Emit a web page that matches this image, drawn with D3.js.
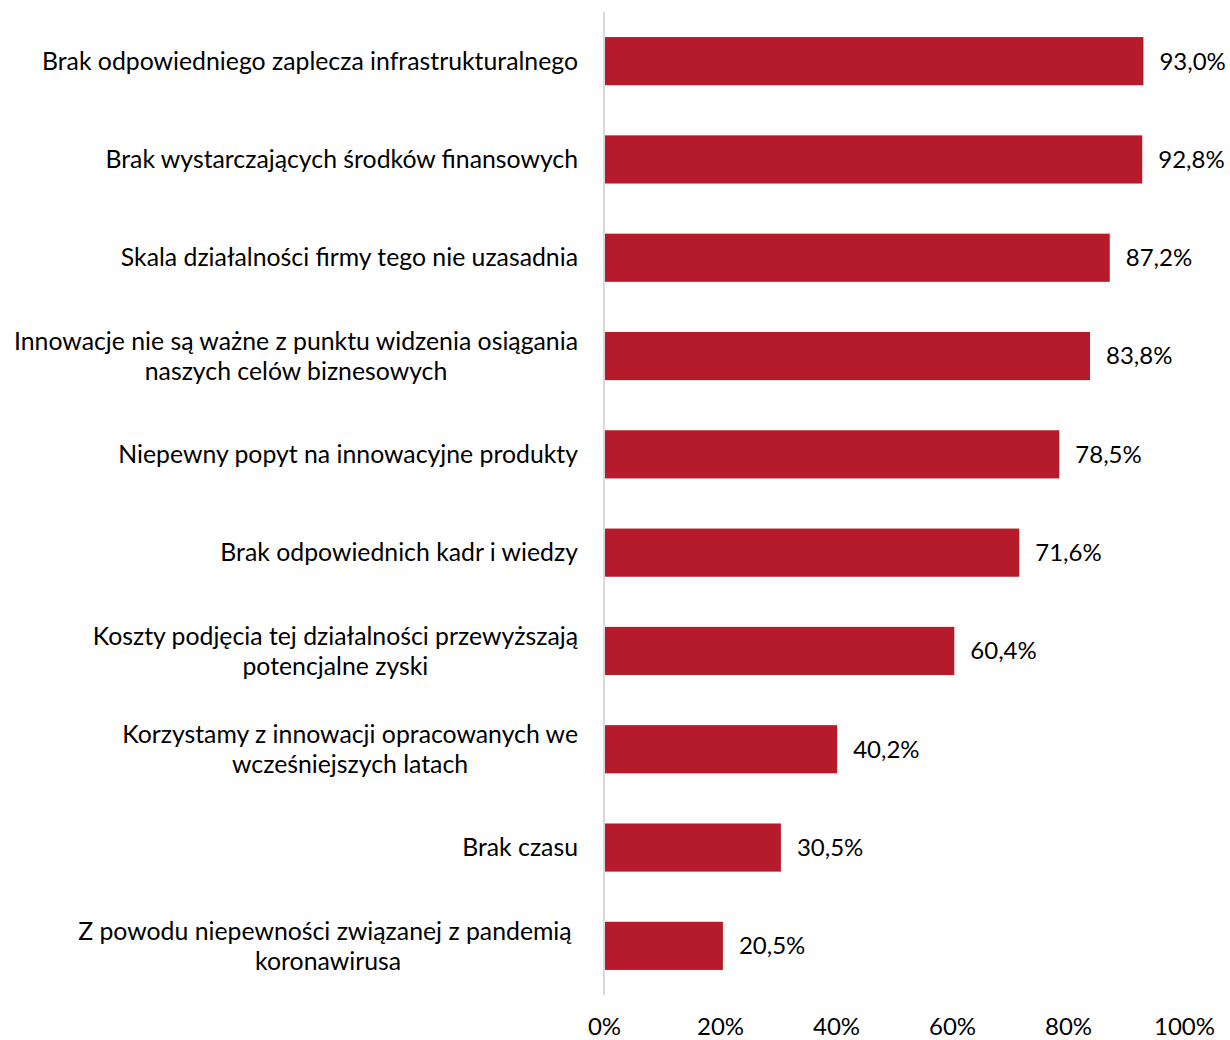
<!DOCTYPE html>
<html>
<head>
<meta charset="utf-8">
<script src="https://cdn.jsdelivr.net/npm/d3@7"></script>
<style>
  body { margin: 0; background: #fff; }
  svg text { font-family: Lato, "Open Sans", sans-serif; fill: #000; }
</style>
</head>
<body>
<svg></svg>
<script>
let categories = [
  ['Brak odpowiedniego zaplecza infrastrukturalnego'],
  ['Brak wystarczających środków finansowych'],
  ['Skala działalności firmy tego nie uzasadnia'],
  ['Innowacje nie są ważne z punktu widzenia osiągania', 'naszych celów biznesowych'],
  ['Niepewny popyt na innowacyjne produkty'],
  ['Brak odpowiednich kadr i wiedzy'],
  ['Koszty podjęcia tej działalności przewyższają', 'potencjalne zyski'],
  ['Korzystamy z innowacji opracowanych we', 'wcześniejszych latach'],
  ['Brak czasu'],
  ['Z powodu niepewności związanej z pandemią\u00a0', 'koronawirusa']
]
let values = [93.0, 92.8, 87.2, 83.8, 78.5, 71.6, 60.4, 40.2, 30.5, 20.5]
let ticks = [0, 20, 40, 60, 80, 100]

let width = 1230
let height = 1040
let x0 = 604
let x1 = 1184
let plotTop = 12
let plotBottom = 995
let fontSize = 24
let catFontSize = 24.8
let lineGap = 30

let svg = d3.select('svg')
svg.attr('width', width).attr('height', height)

let xScale = d3.scaleLinear()
  .domain([0, 100])
  .range([x0, x1])

let yScale = d3.scaleBand()
  .domain(d3.range(categories.length))
  .range([plotTop, plotBottom])
  .paddingInner(0.51)
  .paddingOuter(0.255)

// axis line on the left of bars
svg.append('line')
  .attr('x1', x0).attr('x2', x0)
  .attr('y1', plotTop).attr('y2', plotBottom)
  .attr('stroke', '#d9d9d9')
  .attr('stroke-width', 2)

svg.selectAll('rect.bar')
  .data(values)
  .enter()
  .append('rect')
  .attr('class', 'bar')
  .attr('x', xScale(0) + 1)
  .attr('y', (d, i) => yScale(i))
  .attr('width', (d) => xScale(d) - xScale(0) - 1)
  .attr('height', yScale.bandwidth())
  .attr('fill', '#b51b2a')

// value labels
svg.selectAll('text.val')
  .data(values)
  .enter()
  .append('text')
  .attr('class', 'val')
  .attr('x', (d) => xScale(d) + 16)
  .attr('y', (d, i) => yScale(i) + yScale.bandwidth() / 2)
  .attr('dy', '0.35em')
  .attr('font-size', fontSize)
  .text((d) => d.toFixed(1).replace('.', ',') + '%')

// category labels, lines centred, block right-aligned
categories.forEach((lines, i) => {
  let cy = yScale(i) + yScale.bandwidth() / 2
  let t = svg.append('text')
    .attr('font-size', catFontSize)
    .attr('text-anchor', 'middle')
  lines.forEach((line, j) => {
    t.append('tspan')
      .attr('y', cy + (j - (lines.length - 1) / 2) * lineGap)
      .attr('dy', '0.35em')
      .text(line)
  })
  let w = 0
  t.selectAll('tspan').each(function () {
    w = Math.max(w, this.getComputedTextLength())
  })
  t.selectAll('tspan').attr('x', 578 - w / 2)
})

// x axis tick labels
let xAxis = d3.axisBottom(xScale)
  .tickValues(ticks)
  .tickSize(0)
  .tickPadding(0)
  .tickFormat((d) => d + '%')

let gx = svg.append('g')
  .attr('transform', 'translate(0, 1027)')
  .call(xAxis)
gx.select('.domain').remove()
gx.selectAll('text')
  .attr('font-size', fontSize)
  .attr('font-family', 'Lato, "Open Sans", sans-serif')
  .attr('fill', '#000')
  .attr('dy', '0.35em')
  .attr('y', 0)
</script>
</body>
</html>
